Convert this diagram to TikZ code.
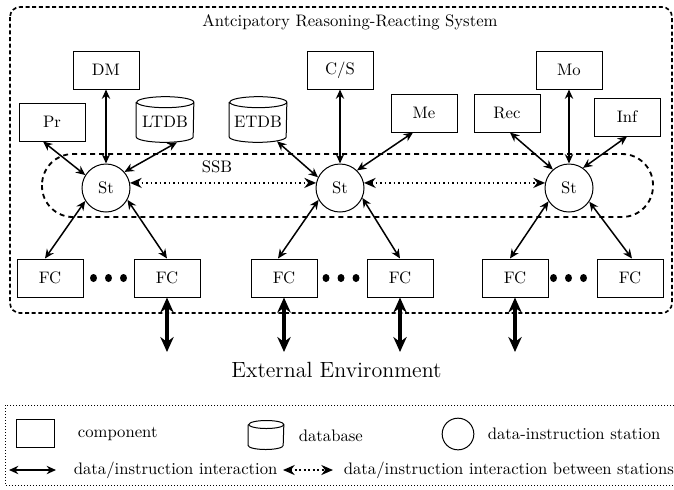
\documentclass[tikz,border=0pt]{standalone}
\usetikzlibrary{arrows.meta,calc}
\begin{document}
\begin{tikzpicture}[x=0.6pt,y=-0.6pt,
  comp/.style={draw,line width=0.6pt,minimum width=39.6pt,minimum height=22.8pt,inner sep=0pt},
  dbnode/.style={minimum width=34.2pt,minimum height=27pt,inner sep=0pt,text height=9.6pt,text depth=0pt},
  station/.style={draw,line width=0.6pt,circle,minimum size=28.8pt,inner sep=0pt},
  link/.style={{Stealth[length=5.6pt,width=5pt]}-{Stealth[length=5.6pt,width=5pt]},line width=0.9pt},
  bus/.style={{Stealth[length=7pt,width=6pt]}-{Stealth[length=7pt,width=6pt]},line width=1.1pt,dash pattern=on 1.1pt off 1.6pt},
  ext/.style={{Stealth[length=9pt,width=8pt]}-{Stealth[length=9pt,width=8pt]},line width=1.9pt},
  outerbox/.style={line width=1pt,dash pattern=on 2.4pt off 1.6pt,rounded corners=6pt},
  band/.style={line width=1.1pt,dash pattern=on 3pt off 2.4pt,rounded corners=18.6pt},
  legendbox/.style={line width=0.5pt,dash pattern=on 0.5pt off 1.3pt},
  fcdot/.style={fill=black}]
\clip (0,0) rectangle (674,489);

% system frame and station bus
\draw[outerbox] (10,7) rectangle (672,313);
\node (title) at (350,22) {Antcipatory Reasoning-Reacting System};
\draw[band] (42,154) rectangle (653,217);
\node (ssb) at (217,167) {SSB};

% components and databases
\node[comp] (DM)  at (106,70)  {DM};
\node[comp] (Pr)  at (52,122)  {Pr};
\node[dbnode] (LTDB) at (165,119.5) {LTDB};
\node[dbnode] (ETDB) at (258,119.5) {ETDB};
\node[comp] (CS)  at (340,70)  {C/S};
\node[comp] (Me)  at (424,113) {Me};
\node[comp] (Rec) at (507,113) {Rec};
\node[comp] (Mo)  at (569,70)  {Mo};
\node[comp] (Inf) at (627,117) {Inf};

% stations
\node[station] (St1) at (106,188) {St};
\node[station] (St2) at (340,188) {St};
\node[station] (St3) at (569,188) {St};

% functional components
\node[comp] (FC1) at (50,278)  {FC};
\node[comp] (FC2) at (167,278) {FC};
\node[comp] (FC3) at (284,278) {FC};
\node[comp] (FC4) at (400,278) {FC};
\node[comp] (FC5) at (515,278) {FC};
\node[comp] (FC6) at (630,278) {FC};
\foreach \cx in {108.5,341,568.5}
  \foreach \dx in {-15,0,15}
    \fill[fcdot] (\cx+\dx,278) ellipse[x radius=2.1pt,y radius=2.4pt];

% legend
\draw[legendbox] (5,405) rectangle (690,485);
\node[comp,minimum width=22.8pt,minimum height=16.8pt] (lgcomp) at (35,433) {};
\node[anchor=west] (lgcompt) at (72,434) {component};
\node[dbnode,minimum width=21pt,minimum height=17pt] (lgdb) at (266,435) {};
\node[anchor=west] (lgdbt) at (293,436) {database};
\node[station,minimum size=19pt] (lgst) at (458,434) {};
\node[anchor=west] (lgstt) at (482,434) {data-instruction station};
\coordinate (la1) at (9,470);
\coordinate (la2) at (56,470);
\coordinate (lb1) at (283,470);
\coordinate (lb2) at (333,470);
\draw[link] (la1) -- (la2);
\draw[bus] (lb1) -- (lb2);
\node[anchor=west] (lgai) at (68,470) {data/instruction interaction};
\node[anchor=west] (lgbi) at (338,470) {data/instruction interaction between stations};

% database outlines
\foreach \n/\rx/\ry in {LTDB/17.1pt/3.3pt,ETDB/17.1pt/3.3pt,lgdb/10.5pt/2.4pt}
  \draw[line width=0.6pt] ($(\n.north west)+(0pt,-\ry)$) -- ($(\n.south west)+(0pt,\ry)$)
    arc[start angle=180,end angle=360,x radius=\rx,y radius=\ry]
    -- ($(\n.north east)+(0pt,-\ry)$)
    arc[start angle=0,end angle=360,x radius=\rx,y radius=\ry];

% links to the first station
\draw[link] ($(Pr.south)+(-9,0)$) -- (St1.148);
\draw[link] (DM.south) -- (St1.north);
\draw[link] ($(LTDB.south)+(12,0)$) -- (St1.41);
\draw[link] (St1.212) -- ($(FC1.north)+(-5,0)$);
\draw[link] (St1.331) -- (FC2.north);
% links to the second station
\draw[link] ($(ETDB.south)+(19,-1)$) -- (St2.154);
\draw[link] (CS.south) -- (St2.north);
\draw[link] ($(Me.south)+(-11,0)$) -- (St2.46);
\draw[link] (St2.209) -- ($(FC3.north)+(-6,0)$);
\draw[link] (St2.336) -- (FC4.north);
% links to the third station
\draw[link] ($(Rec.south)+(3,0)$) -- (St3.131);
\draw[link] (Mo.south) -- (St3.north);
\draw[link] (Inf.south) -- (St3.55);
\draw[link] (St3.213) -- ($(FC5.north)+(-5,0)$);
\draw[link] (St3.326) -- ($(FC6.north)+(2,0)$);

% station-to-station interaction
\draw[bus] (St1.12) -- (St2.168);
\draw[bus] (St2.12) -- (St3.168);

% external environment
\coordinate (e2) at (167,352);
\coordinate (e3) at (284,352);
\coordinate (e4) at (400,352);
\coordinate (e5) at (515,352);
\draw[ext] (FC2.south) -- (e2);
\draw[ext] (FC3.south) -- (e3);
\draw[ext] (FC4.south) -- (e4);
\draw[ext] (FC5.south) -- (e5);
\node[font=\fontsize{13.2}{16}\selectfont] (env) at (336.5,370) {External Environment};
\end{tikzpicture}
\end{document}
